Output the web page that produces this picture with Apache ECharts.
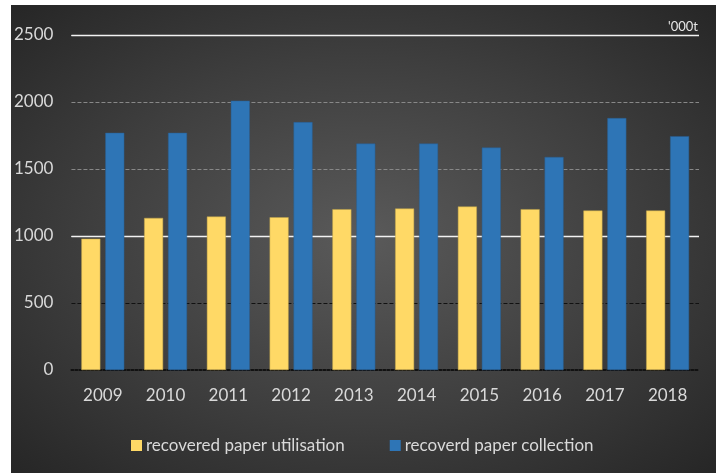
<!DOCTYPE html>
<html>
<head>
<meta charset="utf-8">
<script src="https://cdn.jsdelivr.net/npm/echarts@6/dist/echarts.min.js"></script>
<style>
html,body{margin:0;padding:0;background:#fff;}
#c{position:absolute;left:11px;top:5px;width:705px;height:468px;
background:radial-gradient(ellipse at 50% 50%, #5a5a5a 0%, #3e3e3e 55%, #262626 100%);}
</style>
</head>
<body>
<div id="c"></div>
<script>
const years = ['2009','2010','2011','2012','2013','2014','2015','2016','2017','2018'];
const utilisation = [980, 1135, 1145, 1140, 1200, 1205, 1220, 1200, 1190, 1190];
const collection = [1770, 1770, 2010, 1850, 1690, 1690, 1660, 1590, 1880, 1745];
const yTicks = [0, 500, 1000, 1500, 2000, 2500];
const unitLabel = "'000t";

const chart = echarts.init(document.getElementById('c'));
const font = 'Lato';
chart.setOption({
  animation: false,
  backgroundColor: 'transparent',
  textStyle: {fontFamily: font},
  grid: {left: 59, right: 17, top: 30, bottom: 103},
  graphic: [{
    type: 'text', right: 18, top: 15,
    style: {text: unitLabel, fill: '#e6e6e6', font: '13px Lato', textAlign: 'right'}
  }],
  legend: {
    left: 115, top: 427,
    itemWidth: 11, itemHeight: 11, itemGap: 45,
    icon: 'rect',
    itemStyle: {borderWidth: 0},
    textStyle: {color: '#d9d9d9', fontSize: 17, fontFamily: font, padding: [0,0,0,-1]},
    data: ['recovered paper utilisation', 'recoverd paper collection']
  },
  xAxis: {
    type: 'category', data: years,
    axisLine: {lineStyle: {color: '#111', width: 2, type: 'dotted'}},
    axisTick: {show: false},
    axisLabel: {color: '#d9d9d9', fontSize: 17, margin: 17}
  },
  yAxis: {
    type: 'value', min: yTicks[0], max: yTicks[yTicks.length-1], interval: 500,
    axisLine: {show: false}, axisTick: {show: false},
    axisLabel: {color: '#d9d9d9', fontSize: 17, margin: 18, formatter: v => String(v)},
    splitLine: {lineStyle: {color: ['transparent', '#111', '#fff', '#888', '#888', '#fff'], type: 'dashed', width: 1}}
  },
  series: [{
    name: 'recovered paper utilisation', type: 'bar', data: utilisation,
    barWidth: 19, barGap: '26%', z: 3,
    itemStyle: {color: '#ffd966', borderColor: '#bfa24a', borderWidth: 0.5}
  }, {
    name: 'recoverd paper collection', type: 'bar', data: collection,
    barWidth: 19, z: 3,
    itemStyle: {color: '#2e75b6', borderColor: '#2a5f90', borderWidth: 0.5}
  }, {
    name: 'gridlines', type: 'line', data: [], z: 1, silent: true,
    markLine: {
      silent: true, symbol: 'none', label: {show: false}, z: 1,
      lineStyle: {color: '#f2f2f2', type: 'solid', width: 1.3},
      data: [{yAxis: 1000}, {yAxis: 2500}]
    }
  }]
});
</script>
</body>
</html>
